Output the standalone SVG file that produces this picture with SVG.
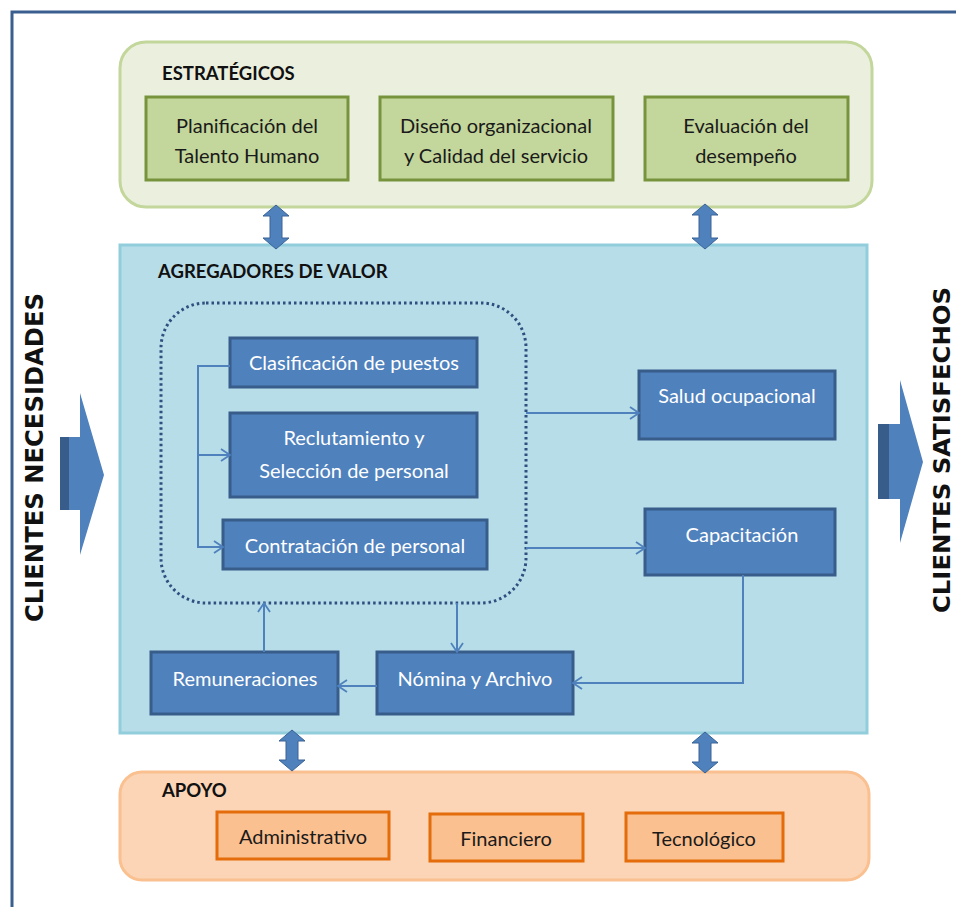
<svg xmlns="http://www.w3.org/2000/svg" width="956" height="907" viewBox="0 0 956 907">
  <defs>
    <style>
      .txt { font-family: Lato, "Liberation Sans", sans-serif; font-size: 20px; text-anchor: middle; }
      .head { font-family: Lato, "Liberation Sans", sans-serif; font-size: 18.5px; font-weight: bold; fill: #111; }
      .side { font-family: "DejaVu Sans", "Liberation Sans", sans-serif; font-size: 24px; font-weight: bold; fill: #111; }
      .green { fill: #c3d69b; stroke: #77933c; stroke-width: 3; }
      .blue { fill: #4f81bd; stroke: #385d8a; stroke-width: 3; }
      .orange { fill: #fac090; stroke: #e46c0a; stroke-width: 3; }
      .dark { fill: #1a1a1a; }
      .white { fill: #ffffff; }
      .conn { fill: none; stroke: #4f81bd; stroke-width: 2; }
      .dbl { fill: #4f81bd; stroke: #3a6396; stroke-width: 1; }
    </style>
    <marker id="open" viewBox="-11 -8 13 16" markerWidth="13" markerHeight="16" refX="0" refY="0" orient="auto" markerUnits="userSpaceOnUse">
      <path d="M-9,-6 L0,0 L-9,6" fill="none" stroke="#4f81bd" stroke-width="1.8"/>
    </marker>
  </defs>

  <!-- outer frame (left and top edges) -->
  <path d="M12,907 V12 H956" fill="none" stroke="#3a5f8f" stroke-width="3"/>

  <!-- side labels and flow arrows -->
  <g id="clientes-necesidades">
    <text class="side" transform="translate(43,622) rotate(-90)" textLength="329" lengthAdjust="spacingAndGlyphs">CLIENTES NECESIDADES</text>
    <polygon points="60,437 80,437 80,393 104,475 80,555 80,510 60,510" fill="#4f81bd"/>
    <rect x="60" y="437" width="9" height="73" fill="#385d8a"/>
  </g>
  <g id="clientes-satisfechos">
    <text class="side" style="font-size:23px" transform="translate(950,613) rotate(-90)" textLength="326" lengthAdjust="spacingAndGlyphs">CLIENTES SATISFECHOS</text>
    <polygon points="878,424 900,424 900,380 923,462 900,543 900,499 878,499" fill="#4f81bd"/>
    <rect x="878" y="424" width="11" height="75" fill="#385d8a"/>
  </g>

  <!-- strategic processes -->
  <g id="estrategicos">
    <rect x="120" y="42" width="752" height="165" rx="26" fill="#ebf0de" stroke="#c3d69b" stroke-width="3"/>
    <text class="head" x="162" y="80">ESTRATÉGICOS</text>
  </g>
  <g id="planificacion">
    <rect class="green" x="146" y="97" width="202" height="83"/>
    <text class="txt dark" x="247" y="133">Planificación del</text>
    <text class="txt dark" x="247" y="163">Talento Humano</text>
  </g>
  <g id="diseno">
    <rect class="green" x="380" y="97" width="233" height="83"/>
    <text class="txt dark" x="496" y="133">Diseño organizacional</text>
    <text class="txt dark" x="496" y="163">y Calidad del servicio</text>
  </g>
  <g id="evaluacion">
    <rect class="green" x="645" y="97" width="203" height="83"/>
    <text class="txt dark" x="746" y="133">Evaluación del</text>
    <text class="txt dark" x="746" y="163">desempeño</text>
  </g>

  <!-- value-adding processes -->
  <g id="agregadores">
    <rect x="120" y="245" width="747" height="488" fill="#b7dde8" stroke="#92cddc" stroke-width="3"/>
    <text class="head" x="158" y="278">AGREGADORES DE VALOR</text>
  </g>
  <g id="grupo-ingreso">
    <rect x="161" y="303" width="365" height="300" rx="45" fill="none" stroke="#2f4f7f" stroke-width="3" stroke-dasharray="2.5 3"/>
  </g>
  <g id="clasificacion">
    <rect class="blue" x="230" y="338" width="247" height="49"/>
    <text class="txt white" x="354" y="370">Clasificación de puestos</text>
  </g>
  <g id="reclutamiento">
    <rect class="blue" x="230" y="413" width="247" height="84"/>
    <text class="txt white" x="354" y="445">Reclutamiento y</text>
    <text class="txt white" x="354" y="478">Selección de personal</text>
  </g>
  <g id="contratacion">
    <rect class="blue" x="223" y="520" width="264" height="49"/>
    <text class="txt white" x="355" y="553">Contratación de personal</text>
  </g>
  <g id="salud">
    <rect class="blue" x="639" y="371" width="196" height="68"/>
    <text class="txt white" x="737" y="403">Salud ocupacional</text>
  </g>
  <g id="capacitacion">
    <rect class="blue" x="645" y="509" width="190" height="66"/>
    <text class="txt white" x="742" y="542">Capacitación</text>
  </g>
  <g id="nomina">
    <rect class="blue" x="377" y="652" width="196" height="62"/>
    <text class="txt white" x="475" y="686">Nómina y Archivo</text>
  </g>
  <g id="remuneraciones">
    <rect class="blue" x="151" y="652" width="187" height="62"/>
    <text class="txt white" x="245" y="686">Remuneraciones</text>
  </g>

  <!-- support processes -->
  <g id="apoyo">
    <rect x="120" y="772" width="749" height="108" rx="22" fill="#fbd5b5" stroke="#fac090" stroke-width="3"/>
    <text class="head" x="162" y="797">APOYO</text>
  </g>
  <g id="administrativo">
    <rect class="orange" x="217" y="812" width="172" height="47"/>
    <text class="txt dark" x="303" y="844">Administrativo</text>
  </g>
  <g id="financiero">
    <rect class="orange" x="430" y="814" width="153" height="47"/>
    <text class="txt dark" x="506" y="846">Financiero</text>
  </g>
  <g id="tecnologico">
    <rect class="orange" x="626" y="813" width="157" height="48"/>
    <text class="txt dark" x="704" y="846">Tecnológico</text>
  </g>

  <!-- connectors -->
  <g id="connectors">
    <path class="conn" d="M230,366 H198 V547 H223" marker-end="url(#open)"/>
    <path class="conn" d="M198,455 H230" marker-end="url(#open)"/>
    <path class="conn" d="M526,413 H639" marker-end="url(#open)"/>
    <path class="conn" d="M526,548 H645" marker-end="url(#open)"/>
    <path class="conn" d="M743,575 V683 H573" marker-end="url(#open)"/>
    <path class="conn" d="M457,603 V652" marker-end="url(#open)"/>
    <path class="conn" d="M377,686 H338" marker-end="url(#open)"/>
    <path class="conn" d="M264,652 V603" marker-end="url(#open)"/>
    <!-- two-way links between the process layers -->
    <polygon class="dbl" points="276,205 289,216 282,216 282,238 289,238 276,249 263,238 270,238 270,216 263,216"/>
    <polygon class="dbl" points="705,204 718,215 711,215 711,238 718,238 705,249 692,238 699,238 699,215 692,215"/>
    <polygon class="dbl" points="292,730 305,741 298,741 298,760 305,760 292,771 279,760 286,760 286,741 279,741"/>
    <polygon class="dbl" points="705,732 718,743 711,743 711,762 718,762 705,773 692,762 699,762 699,743 692,743"/>
  </g>
</svg>
